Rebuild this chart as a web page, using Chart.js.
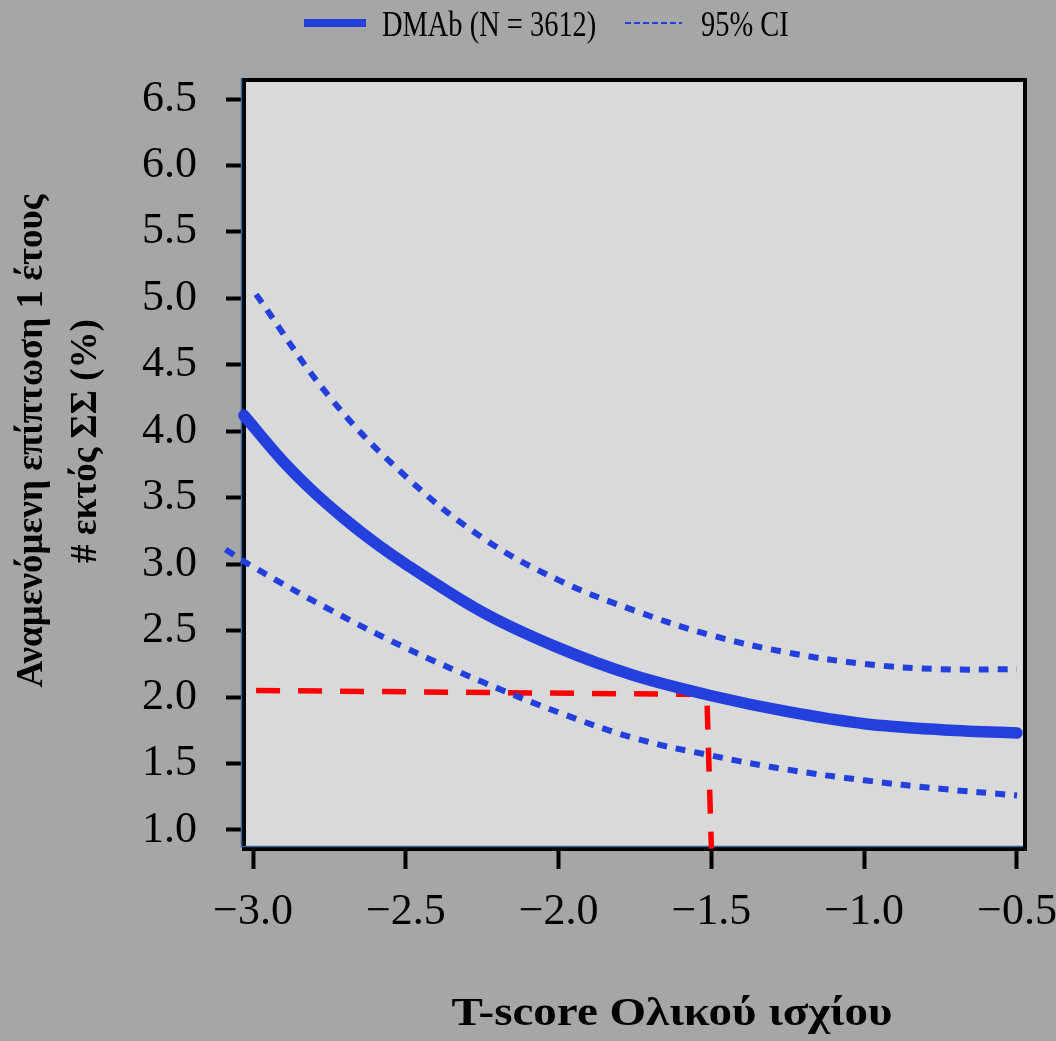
<!DOCTYPE html>
<html>
<head>
<meta charset="utf-8">
<script src="https://cdn.jsdelivr.net/npm/chart.js@4.4.0/dist/chart.umd.min.js"></script>
<style>
    html, body { margin: 0; padding: 0; background: #a6a6a6; }
    #wrap { width: 1056px; height: 1041px; }
</style>
</head>
<body>
<div id="wrap"><canvas id="tscore_chart" width="1056" height="1041"></canvas></div>
<script>
// T-score του ισχίου και αναμενόμενη επίπτωση (%)
const tScore = [-3.03, -2.9, -2.8, -2.7, -2.6, -2.5, -2.25, -2.0, -1.75, -1.5, -1.25, -1.0, -0.75, -0.5];
const dmab   = [4.12, 3.77, 3.54, 3.34, 3.16, 3.00, 2.64, 2.37, 2.16, 2.01, 1.89, 1.80, 1.755, 1.73];

const upperT  = [-2.99, -2.75, -2.5, -2.25, -2.0, -1.75, -1.5, -1.25, -1.0, -0.75, -0.5];
const ciUpper = [5.03, 4.26, 3.66, 3.20, 2.88, 2.65, 2.465, 2.335, 2.25, 2.21, 2.21];

const lowerT  = [-3.09, -3.0, -2.75, -2.5, -2.25, -2.0, -1.75, -1.5, -1.25, -1.0, -0.75, -0.5];
const ciLower = [3.11, 2.98, 2.66, 2.37, 2.115, 1.885, 1.69, 1.56, 1.454, 1.374, 1.31, 1.26];

// κόκκινη γραμμή αναφοράς στο T-score -1.5
const refT   = [-2.99, -1.515, -1.50];
const refPct = [2.05, 2.02, 0.86];

const xTicks = [-3.0, -2.5, -2.0, -1.5, -1.0, -0.5];
const yTicks = [1.0, 1.5, 2.0, 2.5, 3.0, 3.5, 4.0, 4.5, 5.0, 5.5, 6.0, 6.5];

const legendMain = 'DMAb (N = 3612)';
const legendCI = '95% CI';
const xTitle = 'T-score Ολικού ισχίου';
const yTitle = ['Αναμενόμενη επίπτωση 1 έτους', '# εκτός ΣΣ (%)'];

const BLUE = '#2340dc';
const SERIF = '"Liberation Serif", "Times New Roman", serif';

function points(xs, ys) {
    return xs.map((x, i) => ({ x: x, y: ys[i] }));
}

const frame = {
    id: 'frame',
    beforeDraw(chart) {
        const ctx = chart.ctx;
        const a = chart.chartArea;
        ctx.save();
        ctx.fillStyle = '#a6a6a6';
        ctx.fillRect(0, 0, chart.width, chart.height);
        ctx.fillStyle = '#d9d9d9';
        ctx.fillRect(a.left, a.top, a.right - a.left, a.bottom - a.top);
        ctx.restore();
    },
    beforeDatasetsDraw(chart) {
        const ctx = chart.ctx;
        const a = chart.chartArea;
        ctx.save();
        ctx.strokeStyle = '#000';
        ctx.lineWidth = 4;
        ctx.strokeRect(a.left, a.top, a.right - a.left, a.bottom - a.top);
        // λεπτή μπλε γραμμή του άξονα y
        ctx.strokeStyle = '#3d5f9e';
        ctx.lineWidth = 1.5;
        ctx.beginPath();
        ctx.moveTo(a.left - 2.5, a.top - 2);
        ctx.lineTo(a.left - 2.5, a.bottom - 2.5);
        ctx.lineTo(a.right - 2, a.bottom - 2.5);
        ctx.stroke();
        ctx.restore();
    },
    afterDraw(chart) {
        const ctx = chart.ctx;
        ctx.save();
        ctx.fillStyle = '#000';

        // υπόμνημα
        ctx.strokeStyle = BLUE;
        ctx.lineWidth = 8;
        ctx.beginPath();
        ctx.moveTo(304, 23);
        ctx.lineTo(366, 23);
        ctx.stroke();
        ctx.lineWidth = 2;
        ctx.setLineDash([6, 3]);
        ctx.beginPath();
        ctx.moveTo(625, 23);
        ctx.lineTo(682, 23);
        ctx.stroke();
        ctx.setLineDash([]);

        ctx.font = '36px ' + SERIF;
        ctx.textBaseline = 'alphabetic';
        ctx.textAlign = 'left';
        ctx.save();
        ctx.translate(382, 36);
        ctx.scale(0.79, 1);
        ctx.fillText(legendMain, 0, 0);
        ctx.restore();
        ctx.save();
        ctx.translate(701, 36);
        ctx.scale(0.79, 1);
        ctx.fillText(legendCI, 0, 0);
        ctx.restore();

        // τίτλος άξονα x, τεντωμένος στο πλάτος 441px
        ctx.font = 'bold 40px ' + SERIF;
        ctx.textAlign = 'center';
        const w = ctx.measureText(xTitle).width;
        ctx.save();
        ctx.translate(672, 1025);
        ctx.scale(441 / w, 1);
        ctx.fillText(xTitle, 0, 0);
        ctx.restore();

        // τίτλος άξονα y σε δύο γραμμές
        ctx.font = 'bold 37px ' + SERIF;
        ctx.textBaseline = 'middle';
        ctx.translate(32, 441);
        ctx.rotate(-Math.PI / 2);
        ctx.fillText(yTitle[0], 0, 0);
        ctx.fillText(yTitle[1], 0, 54);
        ctx.restore();
    }
};

const tickFont = { family: SERIF, size: 44 };

new Chart(document.getElementById('tscore_chart').getContext('2d'), {
    type: 'line',
    data: {
        datasets: [{
            label: 'ref',
            data: points(refT, refPct),
            borderColor: '#ff0000',
            borderWidth: 5.5,
            borderDash: [24, 18],
            pointRadius: 0,
            tension: 0,
            order: 4
        }, {
            label: legendCI,
            data: points(upperT, ciUpper),
            borderColor: BLUE,
            borderWidth: 6,
            borderDash: [10, 9],
            pointRadius: 0,
            tension: 0.4,
            clip: false,
            order: 3
        }, {
            label: legendCI,
            data: points(lowerT, ciLower),
            borderColor: BLUE,
            borderWidth: 6,
            borderDash: [10, 9],
            pointRadius: 0,
            tension: 0.4,
            clip: false,
            order: 2
        }, {
            label: legendMain,
            data: points(tScore, dmab),
            borderColor: BLUE,
            borderWidth: 11.5,
            borderCapStyle: 'round',
            pointRadius: 0,
            cubicInterpolationMode: 'monotone',
            clip: false,
            order: 1
        }]
    },
    options: {
        responsive: false,
        animation: false,
        devicePixelRatio: 1,
        layout: { padding: { top: 80, right: 31, left: 0, bottom: 0 } },
        plugins: {
            legend: { display: false },
            tooltip: { enabled: false }
        },
        scales: {
            x: {
                type: 'linear',
                min: -3.0295,
                max: -0.4738,
                afterBuildTicks: scale => { scale.ticks = xTicks.map(v => ({ value: v })); },
                afterFit: scale => {
                    scale.height = 192;
                    scale.paddingLeft = 0;
                    scale.paddingRight = 0;
                },
                ticks: {
                    font: tickFont,
                    color: '#000',
                    padding: 17,
                    maxRotation: 0,
                    autoSkip: false,
                    callback: v => (v < 0 ? '\u2212' : '') + Math.abs(v).toFixed(1)
                },
                grid: {
                    drawOnChartArea: false,
                    drawTicks: true,
                    tickLength: 20,
                    tickWidth: 4,
                    tickColor: '#000'
                },
                border: { display: false }
            },
            y: {
                type: 'linear',
                min: 0.857,
                max: 6.643,
                afterBuildTicks: scale => { scale.ticks = yTicks.map(v => ({ value: v })); },
                afterFit: scale => {
                    scale.width = 244;
                    scale.paddingTop = 0;
                    scale.paddingBottom = 0;
                },
                ticks: {
                    font: tickFont,
                    color: '#000',
                    padding: 29,
                    autoSkip: false,
                    callback: v => v.toFixed(1)
                },
                grid: {
                    drawOnChartArea: false,
                    drawTicks: true,
                    tickLength: 18,
                    tickWidth: 4,
                    tickColor: '#000'
                },
                border: { display: false }
            }
        }
    },
    plugins: [frame]
});
</script>
</body>
</html>
